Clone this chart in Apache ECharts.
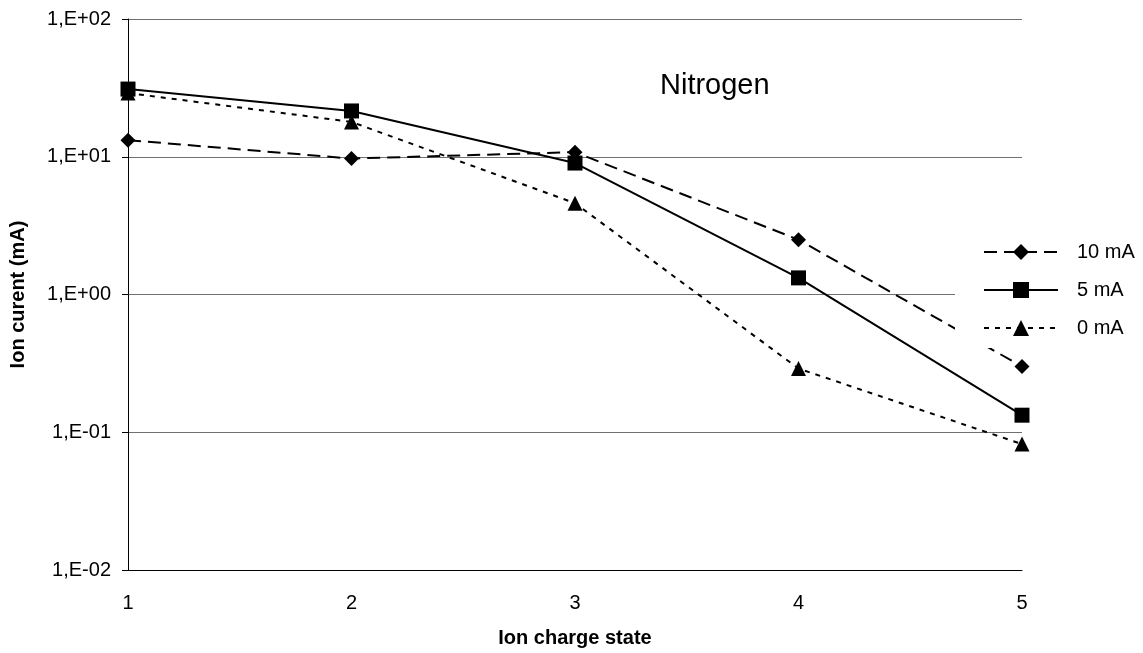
<!DOCTYPE html>
<html>
<head>
<meta charset="utf-8">
<title>Nitrogen</title>
<script src="https://cdn.jsdelivr.net/npm/echarts@6/dist/echarts.min.js"></script>
<style>
    html, body { margin: 0; padding: 0; background: #fff; }
    #chart { width: 1143px; height: 653px; }
</style>
</head>
<body>
<div id="chart"></div>
<script>

// charge states on the x axis
var charge_states = ['1', '2', '3', '4', '5'];

// ion current
var current_10mA = [13.2, 9.7, 10.8, 2.5, 0.30];
var current_5mA = [31, 21.5, 9.0, 1.32, 0.133];
var current_0mA = [29, 17.9, 4.6, 0.29, 0.082];

var font = '"Liberation Sans", Arial, sans-serif';

function sci_label(v) {
    var e = Math.round(Math.log10(v));
    return '1,E' + (e < 0 ? '-' : '+') + String(Math.abs(e)).padStart(2, '0');
}

var myChart = echarts.init(document.getElementById('chart'));

var option = {
    animation: false,
    backgroundColor: '#fff',
    textStyle: {
        fontFamily: font,
        color: '#000'
    },
    title: {
        text: 'Nitrogen',
        left: 655,
        top: 66,
        textStyle: {
            fontFamily: font,
            fontSize: 29,
            fontWeight: 'normal',
            color: '#000'
        }
    },
    grid: {
        left: 128,
        right: 121,
        top: 19,
        bottom: 83,
        outerBoundsMode: 'none'
    },
    legend: {
        orient: 'vertical',
        left: 955,
        top: 232,
        itemWidth: 74,
        itemHeight: 20,
        itemGap: 18,
        backgroundColor: '#fff',
        padding: [10, 4, 10, 28],
        textStyle: {
            fontFamily: font,
            fontSize: 20,
            color: '#000',
            padding: [0, 0, 0, 14]
        },
        data: ['10 mA', '5 mA', '0 mA']
    },
    xAxis: {
        type: 'category',
        data: charge_states,
        boundaryGap: false,
        name: 'Ion charge state',
        nameLocation: 'middle',
        nameGap: 58,
        nameTextStyle: {
            fontFamily: font,
            fontSize: 20,
            fontWeight: 'bold',
            color: '#000'
        },
        axisLine: { show: true, lineStyle: { color: '#000', width: 1 } },
        axisTick: { show: false },
        axisLabel: {
            margin: 23,
            fontFamily: font,
            fontSize: 20,
            color: '#000'
        },
        splitLine: { show: false }
    },
    yAxis: {
        type: 'log',
        logBase: 10,
        min: 0.01,
        max: 100,
        interval: 1,
        name: 'Ion curent (mA)',
        nameLocation: 'middle',
        nameGap: 100,
        nameTextStyle: {
            fontFamily: font,
            fontSize: 20,
            fontWeight: 'bold',
            color: '#000'
        },
        axisLine: { show: true, lineStyle: { color: '#000', width: 1 } },
        axisTick: { show: true, length: 6, lineStyle: { color: '#000' } },
        axisLabel: {
            margin: 17,
            fontFamily: font,
            fontSize: 20,
            color: '#000',
            formatter: sci_label
        },
        splitLine: { show: true, lineStyle: { color: '#707070', width: 1 } },
        minorTick: { show: false }
    },
    series: [
        {
            name: '10 mA',
            type: 'line',
            data: current_10mA,
            symbol: 'diamond',
            symbolSize: 15,
            itemStyle: { color: '#000' },
            lineStyle: { color: '#000', width: 2, type: [13, 7] }
        }, {
            name: '5 mA',
            type: 'line',
            data: current_5mA,
            symbol: 'rect',
            symbolSize: 15,
            itemStyle: { color: '#000' },
            lineStyle: { color: '#000', width: 2, type: 'solid' }
        }, {
            name: '0 mA',
            type: 'line',
            data: current_0mA,
            symbol: 'triangle',
            symbolSize: 15,
            itemStyle: { color: '#000' },
            lineStyle: { color: '#000', width: 2, type: [5, 6] }
        }]
};

myChart.setOption(option);

</script>
</body>
</html>
